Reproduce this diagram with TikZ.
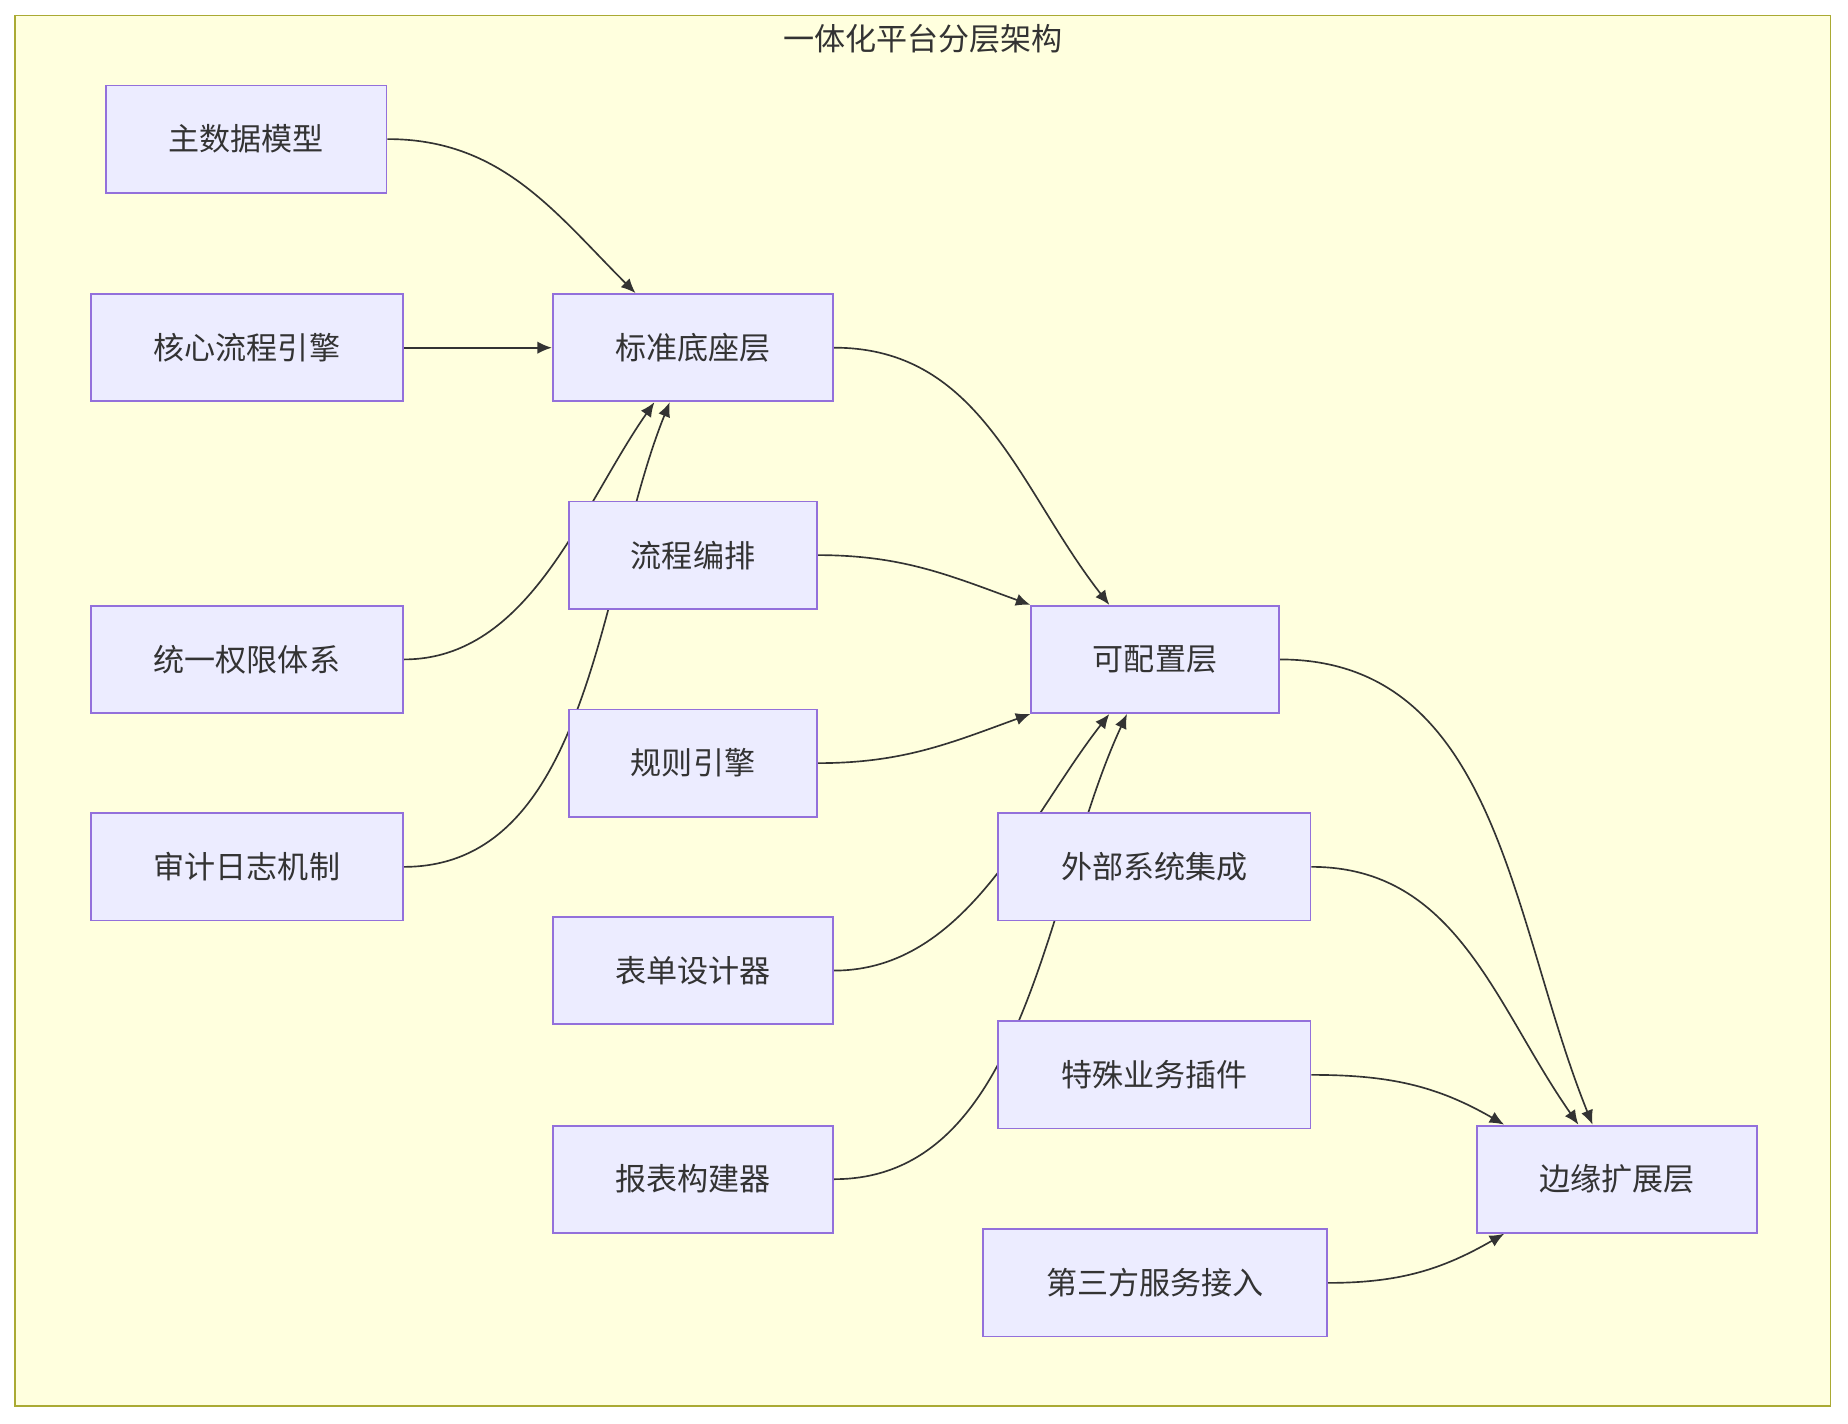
\documentclass[tikz,border=0pt]{standalone}
\usepackage{fontspec}
\newfontfamily\cjk{Noto Sans CJK SC}
\usetikzlibrary{arrows.meta,backgrounds}
\definecolor{boxline}{HTML}{9370DB}
\definecolor{boxfill}{HTML}{ECECFF}
\definecolor{panel}{HTML}{FFFFDE}
\definecolor{panelline}{HTML}{AAAA33}
\tikzset{
  box/.style={draw=boxline, fill=boxfill, line width=0.9pt, minimum height=1.82cm,
              font=\cjk\fontsize{15}{17}\selectfont, text=black!80, inner sep=0pt},
  link/.style={draw=black!80, line width=0.8pt, -{Latex[length=7pt,width=6pt]}}
}
\begin{document}
\begin{tikzpicture}[x=0.02cm,y=-0.02cm]
	%% frame
	\useasboundingbox (0,0) rectangle (1568,1208);
	\node[font=\cjk\fontsize{15}{17}\selectfont, text=black!80] (title) at (783,33) {一体化平台分层架构};
	%% nodes
	\node[box, minimum width=4.76cm] (master) at (209,118) {主数据模型};
	\node[box, minimum width=5.3cm] (core) at (209.5,295) {核心流程引擎};
	\node[box, minimum width=5.3cm] (auth) at (209.5,559.5) {统一权限体系};
	\node[box, minimum width=5.3cm] (audit) at (209.5,735.5) {审计日志机制};
	\node[box, minimum width=4.76cm] (base) at (588,295) {标准底座层};
	\node[box, minimum width=4.2cm] (flow) at (588,471) {流程编排};
	\node[box, minimum width=4.2cm] (rule) at (588,647.5) {规则引擎};
	\node[box, minimum width=4.76cm] (form) at (588,823.5) {表单设计器};
	\node[box, minimum width=4.76cm] (report) at (588,1000.5) {报表构建器};
	\node[box, minimum width=4.2cm] (conf) at (980,559.5) {可配置层};
	\node[box, minimum width=5.3cm] (ext) at (979.5,735.5) {外部系统集成};
	\node[box, minimum width=5.3cm] (plugin) at (979.5,912) {特殊业务插件};
	\node[box, minimum width=5.84cm] (third) at (980,1088.5) {第三方服务接入};
	\node[box, minimum width=4.76cm] (edge) at (1372,1000.5) {边缘扩展层};
	%% links
	\begin{pgfonlayer}{background}
	\draw[fill=panel, draw=panelline, line width=0.8pt] (13,13) rectangle (1553,1193);
	\draw[link] (master.east) to[out=0,in=135] ([xshift=71*0.02cm]base.north west);
	\draw[link] (core) -- (base);
	\draw[link] (auth.east) to[out=0,in=-125,looseness=0.9] ([xshift=87*0.02cm]base.south west);
	\draw[link] (audit.east) to[out=0,in=-112,looseness=0.9] ([xshift=100*0.02cm]base.south west);
	\draw[link] (base.east) to[out=0,in=128] ([xshift=67*0.02cm]conf.north west);
	\draw[link] (flow.east) to[out=0,in=160] (conf.north west);
	\draw[link] (rule.east) to[out=0,in=-160] (conf.south west);
	\draw[link] (form.east) to[out=0,in=-128,looseness=0.9] ([xshift=67*0.02cm]conf.south west);
	\draw[link] (report.east) to[out=0,in=-115,looseness=0.9] ([xshift=82*0.02cm]conf.south west);
	\draw[link] (conf.east) to[out=0,in=112] ([xshift=99*0.02cm]edge.north west);
	\draw[link] (ext.east) to[out=0,in=125] ([xshift=87*0.02cm]edge.north west);
	\draw[link] (plugin.east) to[out=0,in=150] ([xshift=24*0.02cm]edge.north west);
	\draw[link] (third.east) to[out=0,in=-150] ([xshift=24*0.02cm]edge.south west);
	\end{pgfonlayer}
\end{tikzpicture}
\end{document}
